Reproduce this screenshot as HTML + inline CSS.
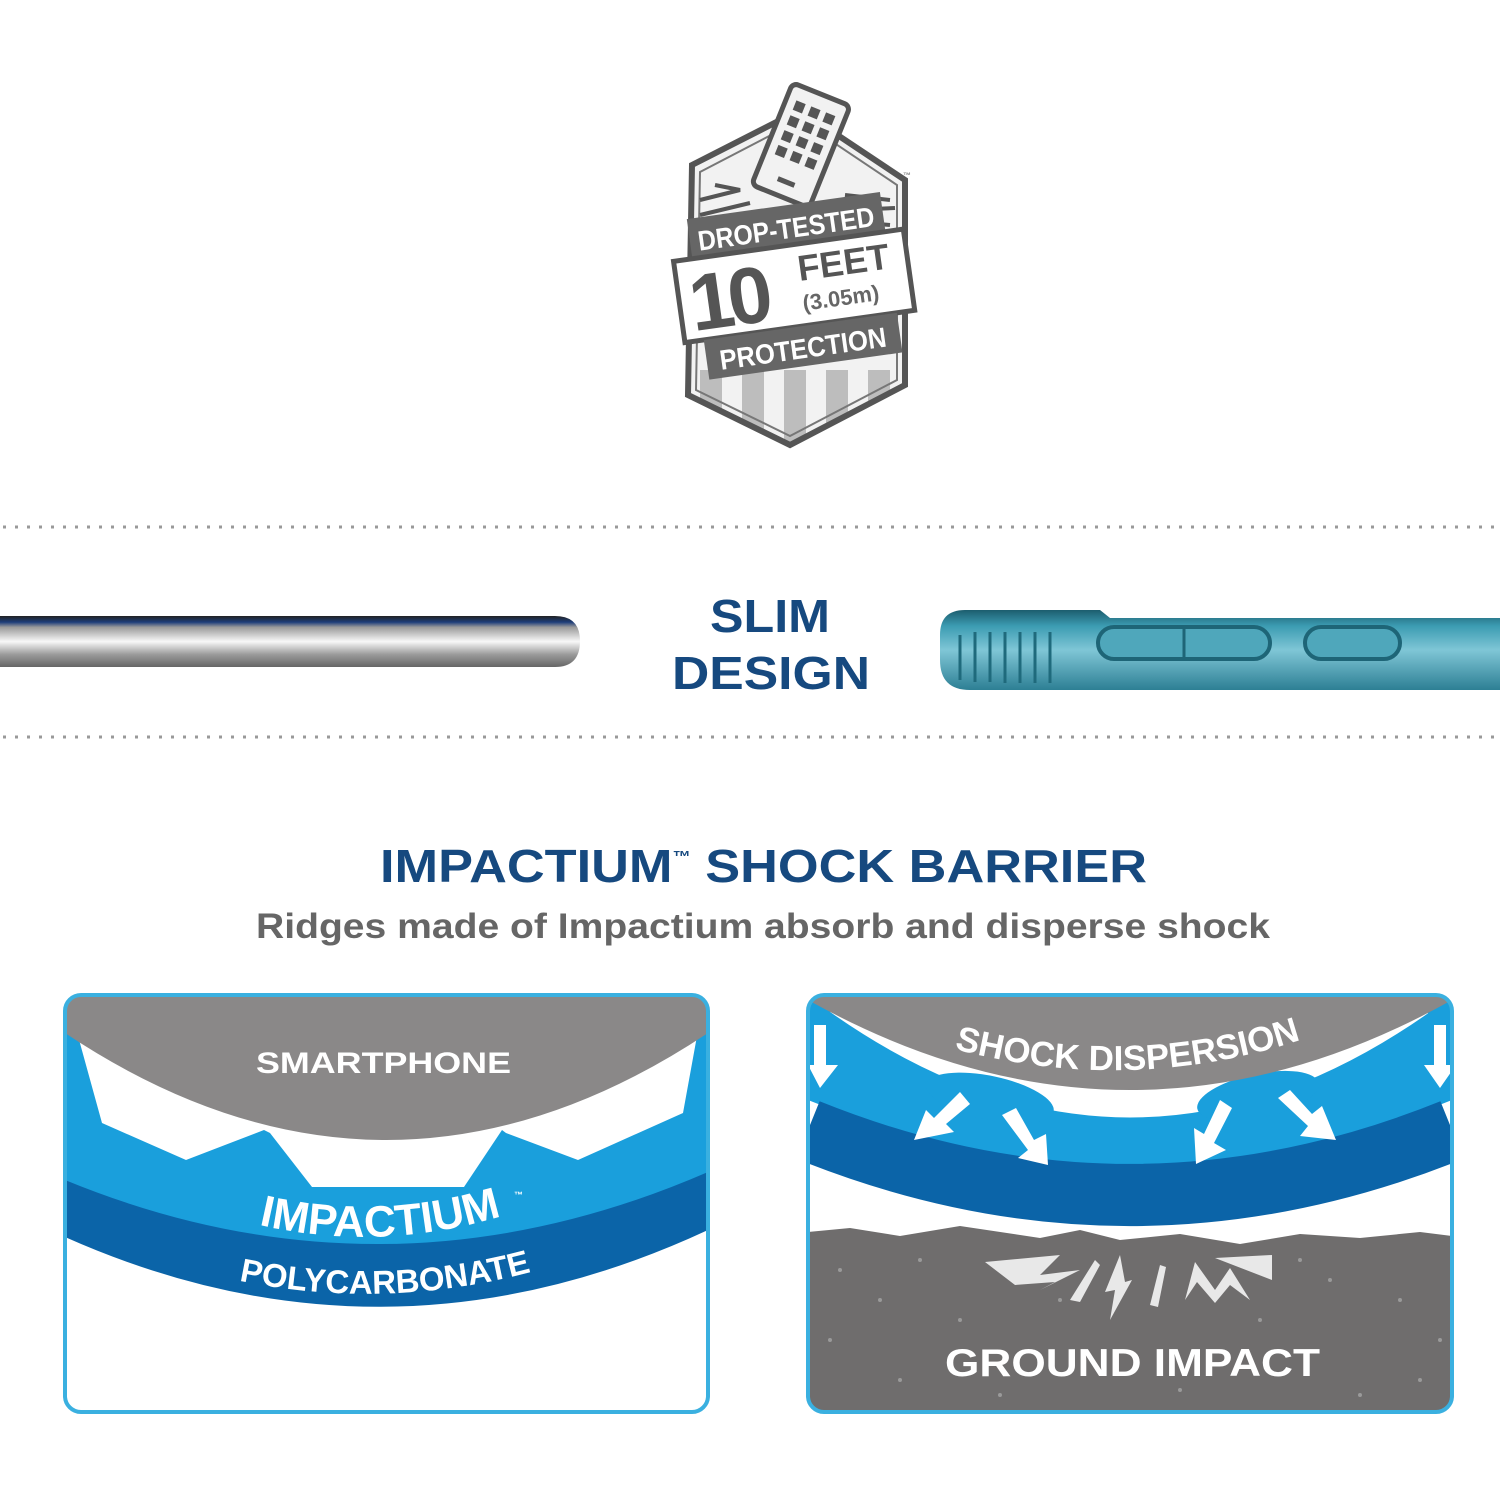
<!DOCTYPE html>
<html><head><meta charset="utf-8"><style>
html,body{margin:0;padding:0;background:#fff}
svg{display:block}
text{font-family:"Liberation Sans",sans-serif;font-weight:bold}
</style></head><body>
<svg width="1500" height="1500" viewBox="0 0 1500 1500" xmlns="http://www.w3.org/2000/svg">
<defs>
<linearGradient id="steel" x1="0" y1="0" x2="0" y2="1">
<stop offset="0" stop-color="#222"/><stop offset="0.12" stop-color="#1d3d7a"/><stop offset="0.22" stop-color="#9a9a9a"/><stop offset="0.5" stop-color="#f8f8f8"/><stop offset="0.75" stop-color="#9c9c9c"/><stop offset="1" stop-color="#666"/>
</linearGradient>
<linearGradient id="teal" x1="0" y1="0" x2="0" y2="1">
<stop offset="0" stop-color="#1c5d6e"/><stop offset="0.2" stop-color="#3c9cb2"/><stop offset="0.5" stop-color="#7fc6d6"/><stop offset="1" stop-color="#2d7f94"/>
</linearGradient>
<clipPath id="cl"><rect x="65" y="995" width="643" height="417" rx="16"/></clipPath>
<clipPath id="cr"><rect x="808" y="995" width="644" height="417" rx="16"/></clipPath>
<clipPath id="shield"><polygon points="692,165 800,110 905,180 905,385 790,445 688,395"/></clipPath>
<path id="arcImp" d="M240,1220 Q380,1258 520,1210"/>
<path id="arcPoly" d="M218,1276 Q385,1316 552,1266"/>
<path id="arcShock" d="M940,1045 Q1130,1100 1315,1035"/>
</defs>

<!-- Badge -->
<g clip-path="url(#shield)">
<rect x="680" y="100" width="240" height="350" fill="#f2f2f2"/>
<g fill="#bdbdbd"><rect x="700" y="370" width="22" height="80"/><rect x="742" y="370" width="22" height="80"/><rect x="784" y="370" width="22" height="80"/><rect x="826" y="370" width="22" height="80"/><rect x="868" y="370" width="22" height="80"/></g>
</g>
<polygon points="692,165 800,110 905,180 905,385 790,445 688,395" fill="none" stroke="#555" stroke-width="6"/>
<polygon points="700,172 800,120 897,185 897,380 790,436 696,390" fill="none" stroke="#777" stroke-width="2"/>
<g stroke="#555" stroke-width="4" fill="none">
<path d="M700,200 L740,190 L715,185 M700,215 L750,203 M705,228 L755,215"/>
<path d="M845,195 L890,200 M850,210 L895,208 M855,222 L890,225"/>
</g>
<g transform="rotate(22 800 145)">
<rect x="770" y="90" width="62" height="110" rx="6" fill="#f2f2f2" stroke="#555" stroke-width="5"/>
<g fill="#555">
<rect x="780" y="105" width="10" height="10"/><rect x="796" y="105" width="10" height="10"/><rect x="812" y="105" width="10" height="10"/>
<rect x="780" y="121" width="10" height="10"/><rect x="796" y="121" width="10" height="10"/><rect x="812" y="121" width="10" height="10"/>
<rect x="780" y="137" width="10" height="10"/><rect x="796" y="137" width="10" height="10"/><rect x="812" y="137" width="10" height="10"/>
<rect x="780" y="153" width="10" height="10"/><rect x="796" y="153" width="10" height="10"/><rect x="812" y="153" width="10" height="10"/>
<rect x="792" y="182" width="18" height="5"/></g>
</g>
<g transform="rotate(-8 793 285)">
<rect x="697" y="205" width="195" height="40" fill="#666"/>
<text x="705" y="238" font-size="28" fill="#fff" textLength="178" lengthAdjust="spacingAndGlyphs">DROP-TESTED</text>
<rect x="678" y="245" width="232" height="82" fill="#fff" stroke="#555" stroke-width="5"/>
<text x="688" y="317" font-size="80" fill="#555" letter-spacing="-6">10</text>
<text x="800" y="282" font-size="36" fill="#555">FEET</text>
<text x="800" y="312" font-size="22" fill="#666" font-weight="normal">(3.05m)</text>
<rect x="697" y="327" width="195" height="40" fill="#666"/>
<text x="710" y="359" font-size="28" fill="#fff" textLength="168" lengthAdjust="spacingAndGlyphs">PROTECTION</text>
</g>
<text x="903" y="178" font-size="8" fill="#888" font-weight="normal">™</text>

<!-- dotted lines -->
<line x1="3" y1="527" x2="1500" y2="527" stroke="#999" stroke-width="3" stroke-dasharray="3 9"/>
<line x1="3" y1="737" x2="1500" y2="737" stroke="#999" stroke-width="3" stroke-dasharray="3 9"/>

<!-- slim design -->
<path d="M0,616 H555 Q580,616 580,641 Q580,667 555,667 H0 Z" fill="url(#steel)"/>
<text x="710" y="632" font-size="46" fill="#16497f" textLength="120" lengthAdjust="spacingAndGlyphs">SLIM</text>
<text x="672" y="689" font-size="46" fill="#16497f" textLength="198" lengthAdjust="spacingAndGlyphs">DESIGN</text>
<path d="M965,610 H1100 L1110,618 H1500 V690 H970 Q940,690 940,660 V635 Q940,610 965,610 Z" fill="url(#teal)"/>
<g stroke="#1f6a7c" stroke-width="3" fill="none">
<path d="M960,680 V635 M975,682 V632 M990,682 V632 M1005,683 V632 M1020,683 V632 M1035,683 V632 M1050,683 V632"/>
</g>
<rect x="1098" y="627" width="172" height="32" rx="16" fill="#4fa7bb" stroke="#1e6577" stroke-width="4"/>
<line x1="1184" y1="629" x2="1184" y2="657" stroke="#1e6577" stroke-width="3"/>
<rect x="1305" y="627" width="95" height="32" rx="16" fill="#4fa7bb" stroke="#1e6577" stroke-width="4"/>

<!-- heading -->
<text x="380" y="882" font-size="46" fill="#16497f" textLength="767" lengthAdjust="spacingAndGlyphs">IMPACTIUM<tspan font-size="16" dy="-20">™</tspan><tspan dy="20"> SHOCK BARRIER</tspan></text>
<text x="256" y="938" font-size="35" fill="#666" font-weight="normal" textLength="1014" lengthAdjust="spacingAndGlyphs">Ridges made of Impactium absorb and disperse shock</text>

<!-- left panel -->
<g clip-path="url(#cl)">
<rect x="65" y="995" width="643" height="417" fill="#fff"/>
<path d="M65,1033 L708,1033 L708,1200 Q386,1340 65,1200 Z" fill="#1a9fdc"/>
<polygon points="78,1036 102,1123 186,1160 264,1130 270,1133 312,1187 464,1187 502,1130 506,1133 578,1160 683,1113 697,1036" fill="#fff"/>
<path d="M65,1180 Q386,1312 708,1172 L708,1230 Q386,1380 65,1237 Z" fill="#0b64a8"/>
<path d="M65,995 H708 V1033 Q386,1247 65,1033 Z" fill="#8a8888"/>
</g>
<rect x="65" y="995" width="643" height="417" rx="16" fill="none" stroke="#3ab0e0" stroke-width="4"/>
<text x="256" y="1073" font-size="30" fill="#fff" textLength="255" lengthAdjust="spacingAndGlyphs">SMARTPHONE</text>
<text font-size="44" fill="#fff"><textPath href="#arcImp" startOffset="50%" text-anchor="middle">IMPACTIUM</textPath></text>
<text x="514" y="1198" font-size="9" fill="#fff" font-weight="normal">™</text>
<text font-size="33" fill="#fff"><textPath href="#arcPoly" startOffset="50%" text-anchor="middle">POLYCARBONATE</textPath></text>

<!-- right panel -->
<g clip-path="url(#cr)">
<rect x="808" y="995" width="644" height="417" fill="#fff"/>
<path d="M808,995 H1452 V1100 Q1130,1230 808,1100 Z" fill="#1a9fdc"/>
<path d="M808,1130 Q1130,1260 1452,1130" fill="none" stroke="#0b64a8" stroke-width="62"/>
<path d="M812,980 Q1130,1225 1448,980" fill="none" stroke="#fff" stroke-width="30"/>
<ellipse cx="990" cy="1098" rx="65" ry="22" fill="#1a9fdc" transform="rotate(12 990 1098)"/>
<ellipse cx="1258" cy="1096" rx="62" ry="22" fill="#1a9fdc" transform="rotate(-12 1258 1096)"/>
<rect x="808" y="995" width="22" height="90" fill="#1a9fdc"/>
<rect x="1428" y="995" width="24" height="90" fill="#1a9fdc"/>
<path d="M808,995 H1452 V1000 Q1130,1180 808,1000 Z" fill="#8a8888"/>
<path d="M808,1232 L850,1228 L900,1236 L960,1226 L1040,1238 L1080,1230 L1120,1240 L1180,1234 L1240,1244 L1300,1234 L1360,1238 L1420,1232 L1452,1236 V1412 H808 Z" fill="#6f6d6d"/>
<g fill="#9a9a9a">
<circle cx="840" cy="1270" r="2"/><circle cx="880" cy="1300" r="2"/><circle cx="830" cy="1340" r="2"/><circle cx="900" cy="1380" r="2"/><circle cx="960" cy="1320" r="2"/><circle cx="1000" cy="1395" r="2"/><circle cx="1060" cy="1300" r="2"/><circle cx="1180" cy="1390" r="2"/><circle cx="1260" cy="1320" r="2"/><circle cx="1330" cy="1280" r="2"/><circle cx="1400" cy="1300" r="2"/><circle cx="1420" cy="1380" r="2"/><circle cx="1360" cy="1395" r="2"/><circle cx="1300" cy="1260" r="2"/><circle cx="920" cy="1260" r="2"/><circle cx="1440" cy="1340" r="2"/>
</g>
<g fill="#fff">
<polygon points="814,1025 826,1025 826,1065 838,1065 820,1088 808,1065 814,1065"/>
<polygon points="1434,1025 1446,1025 1446,1065 1456,1065 1440,1088 1424,1065 1434,1065"/>
<polygon points="960,1092 970,1104 946,1124 954,1132 914,1140 926,1110 934,1118"/>
<polygon points="1002,1115 1016,1108 1034,1140 1046,1134 1048,1165 1018,1158 1028,1150"/>
<polygon points="1232,1108 1220,1100 1204,1134 1194,1128 1196,1164 1226,1150 1214,1143"/>
<polygon points="1278,1098 1290,1090 1312,1114 1322,1106 1336,1140 1300,1136 1308,1126"/>
</g>
<g fill="#e8e8e8">
<polygon points="985,1262 1060,1255 1040,1275 1080,1270 1040,1290 1055,1282 1015,1285"/>
<polygon points="1070,1300 1095,1260 1100,1265 1080,1302"/>
<polygon points="1110,1320 1115,1290 1105,1292 1120,1255 1125,1282 1132,1280"/>
<polygon points="1150,1305 1160,1265 1166,1267 1158,1307"/>
<polygon points="1185,1300 1195,1262 1215,1290 1230,1268 1250,1300 1230,1285 1215,1303 1197,1282"/>
<polygon points="1215,1258 1272,1255 1272,1280"/>
</g>
</g>
<rect x="808" y="995" width="644" height="417" rx="16" fill="none" stroke="#3ab0e0" stroke-width="4"/>
<text font-size="35" fill="#fff"><textPath href="#arcShock" startOffset="50%" text-anchor="middle">SHOCK DISPERSION</textPath></text>
<text x="945" y="1376" font-size="39" fill="#fff" textLength="375" lengthAdjust="spacingAndGlyphs">GROUND IMPACT</text>
</svg>
</body></html>
